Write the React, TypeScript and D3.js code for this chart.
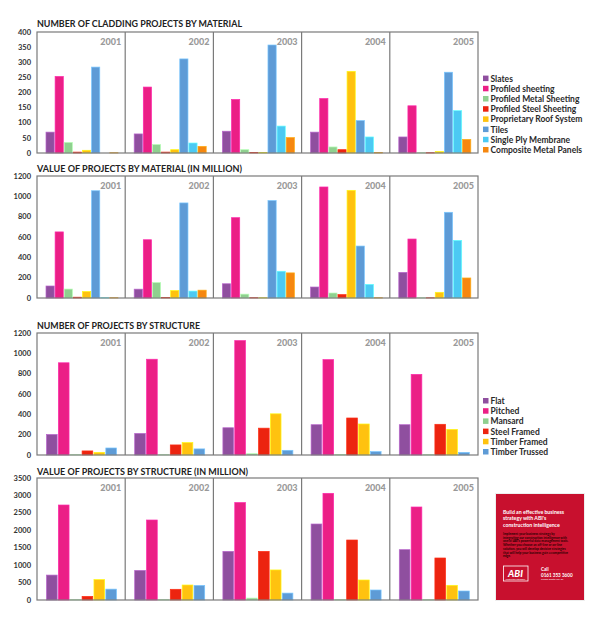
import * as d3 from "d3";

const years = ["2001", "2002", "2003", "2004", "2005"];

const materials = [
  "Slates",
  "Profiled sheeting",
  "Profiled Metal Sheeting",
  "Profiled Steel Sheeting",
  "Proprietary Roof System",
  "Tiles",
  "Single Ply Membrane",
  "Composite Metal Panels",
];
const materialColors = ["#8f4f9f", "#eb1f86", "#8fd08f", "#ec2410", "#ffc20f", "#5e9bd6", "#4cc9f3", "#f6870f"];

const structures = ["Flat", "Pitched", "Mansard", "Steel Framed", "Timber Framed", "Timber Trussed"];
const structureColors = ["#8f4f9f", "#eb1f86", "#8fd08f", "#ec2410", "#ffc20f", "#5e9bd6"];

// rows = series, columns = years 2001..2005
const materialCounts = [
  [69, 63, 72, 69, 53],
  [253, 218, 177, 180, 156],
  [35, 28, 11, 20, 1],
  [3, 3, 2, 11, 1],
  [9, 11, 2, 270, 5],
  [284, 311, 357, 107, 267],
  [0, 33, 89, 53, 140],
  [1, 22, 51, 2, 45],
];

const materialValues = [
  [118, 87, 140, 108, 252],
  [650, 573, 790, 1092, 580],
  [88, 152, 38, 49, 2],
  [8, 5, 3, 33, 2],
  [64, 74, 3, 1059, 56],
  [1055, 935, 958, 511, 843],
  [3, 68, 263, 134, 567],
  [3, 77, 247, 3, 197],
];

const structureCounts = [
  [202, 212, 268, 298, 298],
  [907, 942, 1125, 938, 793],
  [3, 3, 13, 5, 3],
  [40, 99, 264, 364, 302],
  [26, 122, 405, 305, 252],
  [69, 60, 46, 33, 26],
];

const structureValues = [
  [715, 848, 1395, 2180, 1444],
  [2725, 2295, 2795, 3060, 2668],
  [10, 10, 55, 10, 10],
  [104, 307, 1395, 1721, 1205],
  [585, 430, 862, 574, 421],
  [312, 418, 198, 287, 258],
];

const adHeadline = ["Build an effective business", "strategy with ABI's", "construction intelligence"];
const adBody = [
  "Implement your business strategy by",
  "integrating our construction intelligence with",
  "one of ABI's powerful data management tools.",
  "Whether you choose an off-line or on-line",
  "solution, you will develop decisive strategies",
  "that will help your business gain a competitive",
  "edge.",
];

const FONT = "Lato, 'Open Sans', sans-serif";
const PLOT_LEFT = 37;
const PLOT_RIGHT = 478;

interface ChartSpec {
  title: string;
  titleWidth: number;
  titleY: number;
  top: number;
  bottom: number;
  max: number;
  step: number;
  series: string[];
  colors: string[];
  values: number[][];
  inner: [number, number];
  legend: boolean;
}

const charts: ChartSpec[] = [
  {
    title: "NUMBER OF CLADDING PROJECTS BY MATERIAL",
    titleWidth: 205,
    titleY: 27,
    top: 32,
    bottom: 153,
    max: 400,
    step: 50,
    series: materials,
    colors: materialColors,
    values: materialCounts,
    inner: [9, 81],
    legend: true,
  },
  {
    title: "VALUE OF PROJECTS BY MATERIAL (IN MILLION)",
    titleWidth: 205,
    titleY: 171.5,
    top: 176,
    bottom: 298,
    max: 1200,
    step: 200,
    series: materials,
    colors: materialColors,
    values: materialValues,
    inner: [9, 81],
    legend: false,
  },
  {
    title: "NUMBER OF PROJECTS BY STRUCTURE",
    titleWidth: 163,
    titleY: 329,
    top: 333,
    bottom: 455,
    max: 1200,
    step: 200,
    series: structures,
    colors: structureColors,
    values: structureCounts,
    inner: [9.5, 79.5],
    legend: true,
  },
  {
    title: "VALUE OF PROJECTS BY STRUCTURE (IN MILLION)",
    titleWidth: 211,
    titleY: 475,
    top: 478,
    bottom: 600,
    max: 3500,
    step: 500,
    series: structures,
    colors: structureColors,
    values: structureValues,
    inner: [9.5, 79.5],
    legend: false,
  },
];

const Chart = ({ spec }: { spec: ChartSpec }) => {
  const x = d3.scaleBand<string>().domain(years).range([PLOT_LEFT, PLOT_RIGHT]);
  const inner = d3.scaleBand<string>().domain(spec.series).range(spec.inner).paddingInner(0.1);
  const y = d3.scaleLinear().domain([0, spec.max]).range([spec.bottom, spec.top]);
  const ticks = d3.range(0, spec.max + 1, spec.step);
  const n = spec.series.length;

  return (
    <g>
      <text
        x={PLOT_LEFT}
        y={spec.titleY}
        fontFamily={FONT}
        fontWeight={700}
        fontSize={10}
        fill="#222"
        textLength={spec.titleWidth}
        lengthAdjust="spacingAndGlyphs"
      >
        {spec.title}
      </text>

      {ticks.map((t) => (
        <text
          key={t}
          x={31}
          y={y(t)}
          dy="0.35em"
          textAnchor="end"
          fontFamily={FONT}
          fontWeight={700}
          fontSize={7.5}
          fill="#333"
        >
          {t}
        </text>
      ))}

      {years.map((yr, yi) => (
        <g key={yr} transform={`translate(${x(yr)},0)`}>
          {spec.series.map((s, si) => {
            const v = spec.values[si][yi];
            const c = spec.colors[si];
            return (
              <rect
                key={s}
                x={inner(s)}
                y={y(v)}
                width={inner.bandwidth()}
                height={spec.bottom - y(v)}
                fill={c}
                stroke={d3.color(c)!.brighter(0.7).formatHex()}
                strokeWidth={0.7}
              />
            );
          })}
          <text
            x={x.bandwidth() - 4}
            y={spec.top + 12.5}
            textAnchor="end"
            fontFamily={FONT}
            fontWeight={900}
            fontSize={9}
            fill="#999"
          >
            {yr}
          </text>
        </g>
      ))}

      <rect
        x={PLOT_LEFT}
        y={spec.top}
        width={PLOT_RIGHT - PLOT_LEFT}
        height={spec.bottom - spec.top}
        fill="none"
        stroke="#7a7a7a"
        strokeWidth={1.2}
      />
      {years.slice(1).map((yr) => (
        <line key={yr} x1={x(yr)} x2={x(yr)} y1={spec.top} y2={spec.bottom} stroke="#7a7a7a" strokeWidth={1.2} />
      ))}

      {spec.legend &&
        spec.series.map((s, i) => {
          const cy = spec.bottom - 3 - (n - 1 - i) * 10.2;
          return (
            <g key={s}>
              <rect x={483} y={cy - 3} width={5.5} height={5.5} fill={spec.colors[i]} />
              <text x={490.5} y={cy} dy="0.35em" fontFamily={FONT} fontWeight={700} fontSize={8.5} fill="#2a2a2a">
                {s}
              </text>
            </g>
          );
        })}
    </g>
  );
};

const Ad = () => (
  <g fontFamily={FONT}>
    <rect x={495.5} y={493.5} width={89} height={107} fill="none" stroke="#eee" />
    <rect x={496} y={494} width={88} height={106} fill="#c8102e" />
    {adHeadline.map((l, i) => (
      <text key={l} x={503} y={514 + i * 6.3} fontSize={5.2} fontWeight={700} fill="#fff">
        {l}
      </text>
    ))}
    {adBody.map((l, i) => (
      <text key={l} x={503} y={535 + i * 3.7} fontSize={3.2} fontWeight={700} fill="#2a0000">
        {l}
      </text>
    ))}
    <rect x={503.5} y={566} width={24.5} height={15} fill="none" stroke="#fff" strokeWidth={0.8} />
    <text x={515.5} y={576.5} textAnchor="middle" fontSize={9.5} fontWeight={900} fontStyle="italic" fill="#fff">
      ABI
    </text>
    <text x={515.5} y={579.8} textAnchor="middle" fontSize={1.8} fill="#fff">
      construction intelligence
    </text>
    <text x={541} y={571} fontSize={4.6} fontWeight={700} fill="#fff">
      Call
    </text>
    <text x={541} y={576.5} fontSize={4.6} fontWeight={700} fill="#fff">
      0161 353 3600
    </text>
    <text x={541} y={580} fontSize={2.6} fill="#fff">
      Please quote ref: lbl
    </text>
  </g>
);

export default function App() {
  return (
    <svg
      width={600}
      height={617}
      viewBox="0 0 600 617"
      style={{ position: "absolute", left: 0, top: 0, background: "#fff" }}
    >
      {charts.map((c) => (
        <Chart key={c.title} spec={c} />
      ))}
      <Ad />
    </svg>
  );
}
